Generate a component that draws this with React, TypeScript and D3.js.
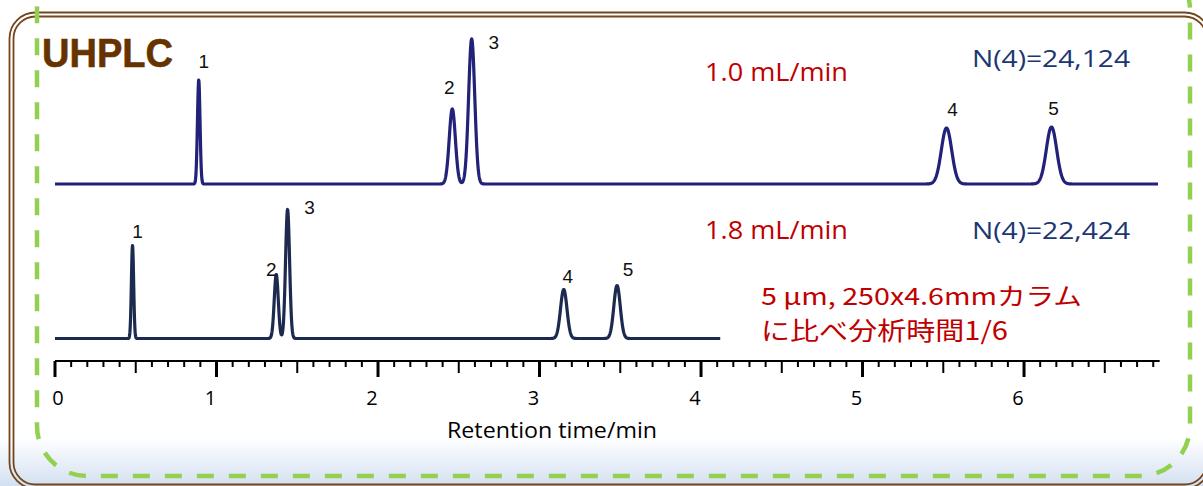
import React from "react";
import * as d3 from "d3";

// Peak table for the two runs (retention time in min, height in detector units, sigma in min)
const peakIds = ["1", "2", "3", "4", "5"];

const run10Label = "1.0 mL/min";
const run10Plates = "N(4)=24,124";
const run10Times = [0.89, 2.46, 2.58, 5.52, 6.17];
const run10Heights = [104, 75, 145, 56, 57];
const run10Sigmas = [0.008, 0.019, 0.019, 0.032, 0.032];
const run10End = 6.83;

const run18Label = "1.8 mL/min";
const run18Plates = "N(4)=22,424";
const run18Times = [0.48, 1.37, 1.44, 3.15, 3.48];
const run18Heights = [93, 64, 129, 49, 53];
const run18Sigmas = [0.007, 0.0125, 0.0125, 0.02, 0.02];
const run18End = 4.12;

const axisTickLabels = ["0", "1", "2", "3", "4", "5", "6"];
const axisTitle = "Retention time/min";
const panelTitle = "UHPLC";
const noteLines = ["5 µm, 250x4.6mmカラム", "に比べ分析時間1/6"];

// Label placement relative to each apex (dx, dy in px)
const run10LabelOffsets = [
  [5, -12],
  [-3, -15],
  [22, 10],
  [6, -12],
  [2, -12],
];
const run18LabelOffsets = [
  [5, -8],
  [-5, 1],
  [22, 4],
  [4, -7],
  [11, -10],
];

const W = 1203;
const H = 486;

const x = d3.scaleLinear().domain([0, 6.84]).range([55, 1159.7]);
const yTop = d3.scaleLinear().domain([0, 150]).range([184, 34]);
const yBottom = d3.scaleLinear().domain([0, 150]).range([338.5, 188.5]);

function trace(times: number[], heights: number[], sigmas: number[], end: number) {
  const pts: [number, number][] = [];
  const step = 0.0015;
  for (let t = 0; t <= end + 1e-9; t += step) {
    let v = 0;
    for (let i = 0; i < times.length; i++) {
      const z = (t - times[i]) / sigmas[i];
      if (Math.abs(z) < 8) v += heights[i] * Math.exp(-0.5 * z * z);
    }
    pts.push([t, v]);
  }
  return pts;
}

const sans = "'Open Sans', 'Noto Sans', sans-serif";
const arial = "'Liberation Sans', Arial, sans-serif";
const cjk = "'Noto Sans CJK JP', 'Noto Sans', sans-serif";

export default function App() {
  const top = trace(run10Times, run10Heights, run10Sigmas, run10End);
  const bottom = trace(run18Times, run18Heights, run18Sigmas, run18End);
  const lineTop = d3
    .line<[number, number]>()
    .x((d) => x(d[0]))
    .y((d) => yTop(d[1]));
  const lineBottom = d3
    .line<[number, number]>()
    .x((d) => x(d[0]))
    .y((d) => yBottom(d[1]));

  const minorTicks = d3.range(0, 69).map((i) => i / 10);
  const axisY = 361;

  const brown = "#74451b";

  return (
    <svg
      width={W}
      height={H}
      viewBox={`0 0 ${W} ${H}`}
      style={{ position: "absolute", left: 0, top: 0, background: "#fff" }}
    >
      <defs>
        <linearGradient id="band" x1="0" y1="0" x2="0" y2="1">
          <stop offset="0" stopColor="#ffffff" />
          <stop offset="1" stopColor="#d3e0f1" />
        </linearGradient>
        <filter id="soft" x="-5%" y="-5%" width="110%" height="110%">
          <feGaussianBlur stdDeviation="0.45" />
        </filter>
      </defs>

      <rect x={0} y={0} width={W} height={H} fill="#fff" />
      <rect x={0} y={438} width={W} height={48} fill="url(#band)" />

      {/* double brown frame */}
      <rect x={9.5} y={12.5} width={1201} height={476} rx={26} fill="none" stroke={brown} strokeWidth={1.8} />
      <rect x={13.5} y={16.5} width={1193} height={468} rx={22} fill="none" stroke={brown} strokeWidth={1.8} />

      {/* green dashed frame */}
      <rect
        x={37}
        y={-40}
        width={1153}
        height={516}
        rx={50}
        fill="none"
        stroke="#92d050"
        strokeWidth={4.5}
        strokeDasharray="17 15"
        strokeDashoffset={8}
      />

      <text
        x={42}
        y={67}
        fontFamily={arial}
        fontWeight="bold"
        fontSize={41}
        fill="#663300"
        stroke="#663300"
        strokeWidth={0.6}
        textLength={131}
        lengthAdjust="spacingAndGlyphs"
      >
        {panelTitle}
      </text>

      {/* chromatograms */}
      <g filter="url(#soft)">
        <path d={lineTop(top) || ""} fill="none" stroke="#202078" strokeWidth={3.2} strokeLinejoin="round" />
        <path d={lineBottom(bottom) || ""} fill="none" stroke="#1d2a50" strokeWidth={3.2} strokeLinejoin="round" />
      </g>

      {peakIds.map((id, i) => (
        <text
          key={"t" + id}
          x={x(run10Times[i]) + run10LabelOffsets[i][0]}
          y={yTop(run10Heights[i]) + run10LabelOffsets[i][1]}
          textAnchor="middle"
          fontFamily={arial}
          fontSize={19}
          fill="#111"
        >
          {id}
        </text>
      ))}
      {peakIds.map((id, i) => (
        <text
          key={"b" + id}
          x={x(run18Times[i]) + run18LabelOffsets[i][0]}
          y={yBottom(run18Heights[i]) + run18LabelOffsets[i][1]}
          textAnchor="middle"
          fontFamily={arial}
          fontSize={19}
          fill="#111"
        >
          {id}
        </text>
      ))}

      {/* run annotations */}
      <text x={705} y={81} fontFamily={sans} fontSize={25} fill="#c00000" textLength={143} lengthAdjust="spacingAndGlyphs">
        {run10Label}
      </text>
      <text x={972} y={67} fontFamily={sans} fontSize={24} fill="#1b3670" textLength={158} lengthAdjust="spacingAndGlyphs">
        {run10Plates}
      </text>
      <text x={705} y={239} fontFamily={sans} fontSize={25} fill="#c00000" textLength={143} lengthAdjust="spacingAndGlyphs">
        {run18Label}
      </text>
      <text x={972} y={239} fontFamily={sans} fontSize={24} fill="#1b3670" textLength={158} lengthAdjust="spacingAndGlyphs">
        {run18Plates}
      </text>
      <text x={761} y={305} fontFamily={cjk} fontSize={24} fill="#c00000" textLength={321} lengthAdjust="spacingAndGlyphs">
        {noteLines[0]}
      </text>
      <text x={761} y={340} fontFamily={cjk} fontSize={25} fill="#c00000" textLength={247} lengthAdjust="spacingAndGlyphs">
        {noteLines[1]}
      </text>

      {/* time axis */}
      <line x1={x(0)} x2={x(6.84)} y1={axisY} y2={axisY} stroke="#000" strokeWidth={2.2} />
      {minorTicks.map((t, i) => {
        const major = i % 10 === 0;
        const mid = i % 10 === 5;
        const len = major ? 16 : mid ? 12 : 6;
        return (
          <line
            key={"k" + i}
            x1={x(t)}
            x2={x(t)}
            y1={axisY}
            y2={axisY + len}
            stroke="#000"
            strokeWidth={major ? 3 : 2}
          />
        );
      })}
      {axisTickLabels.map((lab, i) => (
        <text
          key={"l" + lab}
          x={x(i) + (i === 0 ? 3 : -6)}
          y={405}
          textAnchor="middle"
          fontFamily={sans}
          fontSize={20}
          fill="#000"
        >
          {lab}
        </text>
      ))}
      <text x={447} y={438} fontFamily={sans} fontSize={21} fill="#000" textLength={210} lengthAdjust="spacingAndGlyphs">
        {axisTitle}
      </text>
    </svg>
  );
}
